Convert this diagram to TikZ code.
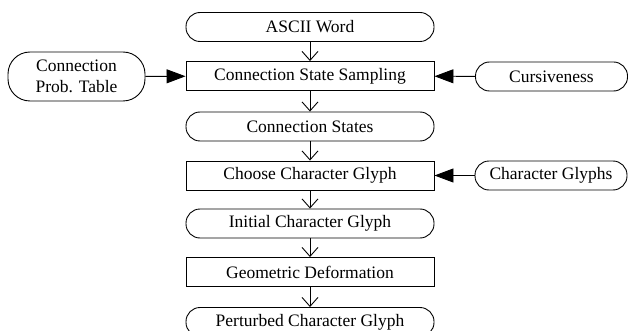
\documentclass[tikz,border=0pt]{standalone}
\usepackage{fontspec}
\setmainfont{Liberation Serif}
\usepackage{tikz}
\usetikzlibrary{arrows.meta}

\begin{document}
\begin{tikzpicture}[x=1pt,y=-1pt,line width=0.9pt]
\tikzstyle{every node} = [draw, font=\fontsize{17.5}{19}\selectfont, inner sep=0pt, align=center]
\tikzstyle{proc} = [rectangle, minimum width=248pt, minimum height=29pt]
\tikzstyle{data} = [rectangle, rounded corners=14pt, minimum width=248pt, minimum height=29pt]
\tikzstyle{side} = [rectangle, rounded corners=14pt, minimum width=152pt, minimum height=29pt]
\useasboundingbox (0,0) rectangle (628,331);
\clip (0,0) rectangle (628,331);
\node[data](word) at (310,27) {ASCII Word};
\node[proc](samp) at (310,76) {Connection State Sampling};
\node[data](states) at (310,126.5) {Connection States};
\node[proc](choose) at (310,175.5) {Choose Character Glyph};
\node[data](init) at (310,223.5) {Initial Character Glyph};
\node[proc](deform) at (310,272) {Geometric Deformation};
\node[data](pert) at (310,322) {Perturbed Character Glyph};
\node[rectangle, rounded corners=22pt, minimum width=137pt, minimum height=49pt, font=\fontsize{17.5}{21}\selectfont](table) at (76.5,76.5) {Connection\\Prob. Table};
\node[side](curs) at (551.5,76.5) {Cursiveness};
\node[side](glyphs) at (551,175.5) {Character Glyphs};
\foreach \from/\to in {word/samp, samp/states, states/choose, choose/init, init/deform, deform/pert}
\draw [-{Straight Barb[length=9pt,width=16pt]}] (\from) -- (\to);
\foreach \from/\to in {table/samp, curs/samp, glyphs/choose}
\draw [-{Triangle[length=19pt,width=14pt]}] (\from) -- (\to);
\end{tikzpicture}
\end{document}
